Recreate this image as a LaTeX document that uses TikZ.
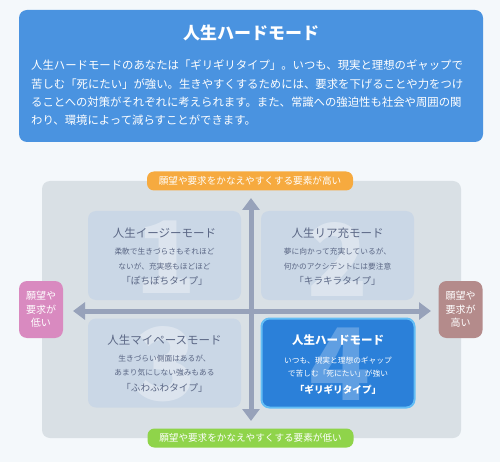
\documentclass[tikz,border=0pt]{standalone}
\usepackage{fontspec}
\setmainfont{Noto Sans CJK JP}
\usetikzlibrary{arrows.meta}
\definecolor{bgc}{HTML}{F4F8FB}
\definecolor{topc}{HTML}{4A93E0}
\definecolor{panelc}{HTML}{D9E0E5}
\definecolor{qc}{HTML}{CAD7E6}
\definecolor{qtext}{HTML}{5B6785}
\definecolor{arrowc}{HTML}{97A2BA}
\definecolor{q4c}{HTML}{2B80D9}
\definecolor{q4b}{HTML}{63BDF5}
\definecolor{orangec}{HTML}{F6AA3F}
\definecolor{greenc}{HTML}{8FD44A}
\definecolor{pinkc}{HTML}{D98AC0}
\definecolor{brownc}{HTML}{B48B8B}
\tikzset{
  box/.style={rounded corners=8pt, inner sep=0pt},
  qbox/.style={box, fill=qc, minimum width=153pt, minimum height=89pt},
  digit/.style={text=white, opacity=0.35, font=\bfseries\fontsize{100}{100}\selectfont, inner sep=0pt},
  qtitle/.style={text=qtext, font=\fontsize{11.5}{13}\selectfont, inner sep=0pt},
  qdesc/.style={text=qtext, font=\fontsize{7.7}{9}\selectfont, inner sep=0pt},
  qtype/.style={text=qtext, font=\fontsize{9.6}{11}\selectfont, inner sep=0pt},
  bodyline/.style={anchor=west, text=white, font=\fontsize{11.37}{13}\selectfont, inner sep=0pt},
  axis/.style={line width=5pt, draw=arrowc, {Triangle[width=17pt,length=12pt]}-{Triangle[width=17pt,length=12pt]}},
  pill/.style={rounded corners=7pt, text=white, font=\fontsize{9.6}{11}\selectfont, minimum width=206pt, minimum height=19pt, inner sep=0pt},
  side/.style={rounded corners=8pt, text=white, font=\fontsize{10}{13.5}\selectfont, minimum width=44pt, minimum height=57pt, inner sep=0pt, align=center}
}
\begin{document}
\begin{tikzpicture}[x=1pt,y=-1pt]
\useasboundingbox (0,0) rectangle (500,462);
\fill[bgc] (0,0) rectangle (500,462);

% top explanation box
\node[box, fill=topc, minimum width=464pt, minimum height=132pt] (top) at (251,76) {};
\node[text=white, font=\bfseries\fontsize{17}{20}\selectfont, inner sep=0pt] (title) at (251,33) {人生ハードモード};
\node[bodyline] (l1) at (31,65) {人生ハードモードのあなたは「ギリギリタイプ」。いつも、現実と理想のギャップで};
\node[bodyline] (l2) at (31,84) {苦しむ「死にたい」が強い。生きやすくするためには、要求を下げることや力をつけ};
\node[bodyline] (l3) at (31,102) {ることへの対策がそれぞれに考えられます。また、常識への強迫性も社会や周囲の関};
\node[bodyline] (l4) at (31,120) {わり、環境によって減らすことができます。};

% panel
\node[box, fill=panelc, minimum width=419pt, minimum height=257pt] (panel) at (251.5,309.5) {};

% axes
\coordinate (vt) at (251,198);
\coordinate (vb) at (251,421);
\coordinate (hl) at (73,311);
\coordinate (hr) at (431,311);
\draw[axis] (vb) -- (vt);
\draw[axis] (hl) -- (hr);

% quadrant 1
\node[qbox] (q1) at (164.5,255.5) {};
\node[digit] (d1) at (166,257) {1};
\node[qtitle] (q1t) at (164.5,233) {人生イージーモード};
\node[qdesc] (q1a) at (164.5,252) {柔軟で生きづらさもそれほど};
\node[qdesc] (q1b) at (164.5,267) {ないが、充実感もほどほど};
\node[qtype] (q1c) at (164.5,281) {「ぽちぽちタイプ」};

% quadrant 2
\node[qbox] (q2) at (337.5,255.5) {};
\node[digit] (d2) at (337.5,259) {2};
\node[qtitle] (q2t) at (337.5,233) {人生リア充モード};
\node[qdesc] (q2a) at (337.5,252) {夢に向かって充実しているが、};
\node[qdesc] (q2b) at (337.5,267) {何かのアクシデントには要注意};
\node[qtype] (q2c) at (337.5,281) {「キラキラタイプ」};

% quadrant 3
\node[qbox] (q3) at (164.5,363) {};
\node[digit] (d3) at (166,364) {3};
\node[qtitle] (q3t) at (164.5,340) {人生マイペースモード};
\node[qdesc] (q3a) at (164.5,359) {生きづらい側面はあるが、};
\node[qdesc] (q3b) at (164.5,373) {あまり気にしない強みもある};
\node[qtype] (q3c) at (164.5,388) {「ふわふわタイプ」};

% quadrant 4
\node[qbox, fill=q4c, draw=q4b, line width=2pt] (q4) at (338,363) {};
\node[digit, opacity=0.25] (d4) at (340,364) {4};
\node[qtitle, text=white, font=\bfseries\fontsize{11.5}{13}\selectfont] (q4t) at (338,340) {人生ハードモード};
\node[qdesc, text=white] (q4a) at (338,361) {いつも、現実と理想のギャップ};
\node[qdesc, text=white] (q4b) at (338,374) {で苦しむ「死にたい」が強い};
\node[qtype, text=white, font=\bfseries\fontsize{9.6}{11}\selectfont] (q4c) at (338,390) {「ギリギリタイプ」};

% axis labels
\node[pill, fill=orangec] (high) at (250,181) {願望や要求をかなえやすくする要素が高い};
\node[pill, fill=greenc] (low) at (250.5,438) {願望や要求をかなえやすくする要素が低い};
\node[side, fill=pinkc] (left) at (41,309.5) {願望や\\要求が\\低い};
\node[side, fill=brownc] (right) at (460.5,309.5) {願望や\\要求が\\高い};
\end{tikzpicture}
\end{document}
